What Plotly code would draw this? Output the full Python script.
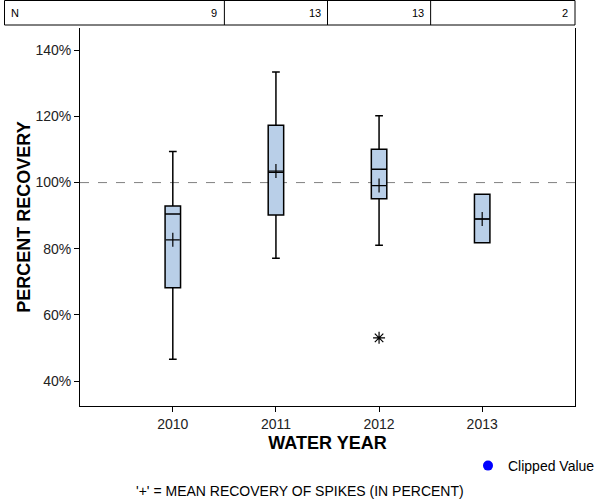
import plotly.graph_objects as go

years = [2010, 2011, 2012, 2013]
n_counts = ["9", "13", "13", "2"]
q1 = [68.2, 90.2, 95.1, 81.8]
median = [90.5, 103.1, 104.0, 89.0]
q3 = [92.9, 117.3, 110.1, 96.5]
lower_whisker = [46.6, 77.1, 81.1, 81.8]
upper_whisker = [109.4, 133.4, 120.2, 96.5]
means = [82.7, 103.5, 99.1, 89.0]
outlier_x = [2012]
outlier_y = [53.1]
y_ticks = [40, 60, 80, 100, 120, 140]
y_tick_labels = ["40%", "60%", "80%", "100%", "120%", "140%"]

W, H = 600, 500
L, R, T, B = 80, 25, 28, 94
pw, ph = W - L - R, H - T - B

def px_x(px):
    return (px - L) / pw

def px_y(py):
    return (H - B - py) / ph

FONT = "Arial, Liberation Sans, sans-serif"
BOX_FILL = "#B9CFE8"

fig = go.Figure()

fig.add_trace(go.Box(
    x=years, q1=q1, median=median, q3=q3,
    lowerfence=lower_whisker, upperfence=upper_whisker,
    width=0.15, whiskerwidth=0.5,
    fillcolor=BOX_FILL, line=dict(color="black", width=1.5),
    boxpoints=False, showlegend=False, hoverinfo="skip",
))

fig.add_trace(go.Scatter(
    x=years, y=means, mode="markers",
    marker=dict(symbol="cross-thin", size=10, color="black", line=dict(color="black", width=1.2)),
    showlegend=False, hoverinfo="skip",
))

fig.add_trace(go.Scatter(
    x=outlier_x, y=outlier_y, mode="markers",
    marker=dict(symbol="asterisk-open", size=10, color="black", line=dict(color="black", width=1.2)),
    showlegend=False, hoverinfo="skip",
))

fig.add_trace(go.Scatter(
    x=[None], y=[None], mode="markers", name="Clipped Value",
    marker=dict(symbol="circle", size=10, color="#0000FF"),
    showlegend=True,
))

shapes = []
# reference line at 100%
shapes.append(dict(type="line", xref="paper", yref="y", x0=0, x1=1, y0=100, y1=100,
                   line=dict(color="#808080", width=1, dash="dash"), layer="below"))
# N table
ty0, ty1 = px_y(25), px_y(0.5)
shapes.append(dict(type="rect", xref="paper", yref="paper", x0=px_x(4.5), x1=1, y0=ty0, y1=ty1,
                   line=dict(color="black", width=1)))
dividers = [y + 0.5 for y in years[:-1]]
for d in dividers:
    shapes.append(dict(type="line", xref="x", yref="paper", x0=d, x1=d, y0=ty0, y1=ty1,
                       line=dict(color="black", width=1)))

annotations = []
annotations.append(dict(text="N", xref="paper", yref="paper", x=px_x(9), y=(ty0 + ty1) / 2,
                        xanchor="left", yanchor="middle", showarrow=False,
                        font=dict(family=FONT, size=11, color="black")))
right_edges = dividers + [2013.9]
for re_, n in zip(right_edges, n_counts):
    annotations.append(dict(text=n, xref="x", yref="paper", x=re_, y=(ty0 + ty1) / 2,
                            xanchor="right", yanchor="middle", xshift=-5, showarrow=False,
                            font=dict(family=FONT, size=11, color="black")))
annotations.append(dict(text="'+' = MEAN RECOVERY OF SPIKES (IN PERCENT)", xref="paper", yref="paper",
                        x=px_x(300), y=px_y(491), xanchor="center", yanchor="middle", showarrow=False,
                        font=dict(family=FONT, size=14, color="black")))

fig.update_layout(
    width=W, height=H,
    margin=dict(l=L, r=R, t=T, b=B, autoexpand=False),
    paper_bgcolor="white", plot_bgcolor="white",
    font=dict(family=FONT, size=14, color="black"),
    shapes=shapes, annotations=annotations,
    legend=dict(x=px_x(468), y=px_y(466), xanchor="left", yanchor="middle",
                bgcolor="rgba(0,0,0,0)", borderwidth=0,
                font=dict(family=FONT, size=14, color="black"),
                itemwidth=30),
    xaxis=dict(range=[2009.1, 2013.9], tickvals=years, ticktext=[str(y) for y in years],
               ticks="outside", ticklen=5, tickcolor="black", showline=True, linecolor="black",
               linewidth=1, showgrid=False, zeroline=False, mirror=False,
               title=dict(text="<b>WATER YEAR</b>", font=dict(family=FONT, size=18, color="black"),
                          standoff=5),
               tickfont=dict(family=FONT, size=14, color="#222")),
    yaxis=dict(range=[32.5, 146.7], tickvals=y_ticks, ticktext=y_tick_labels,
               ticks="outside", ticklen=5, tickcolor="black", showline=True, linecolor="black",
               linewidth=1, showgrid=False, zeroline=False, mirror=True,
               title=dict(text="<b>PERCENT RECOVERY</b>", font=dict(family=FONT, size=18, color="black"),
                          standoff=0),
               tickfont=dict(family=FONT, size=14, color="#222")),
)

fig.write_html("out.html", config={"displayModeBar": False},
               post_script="document.body.style.margin='0';")
